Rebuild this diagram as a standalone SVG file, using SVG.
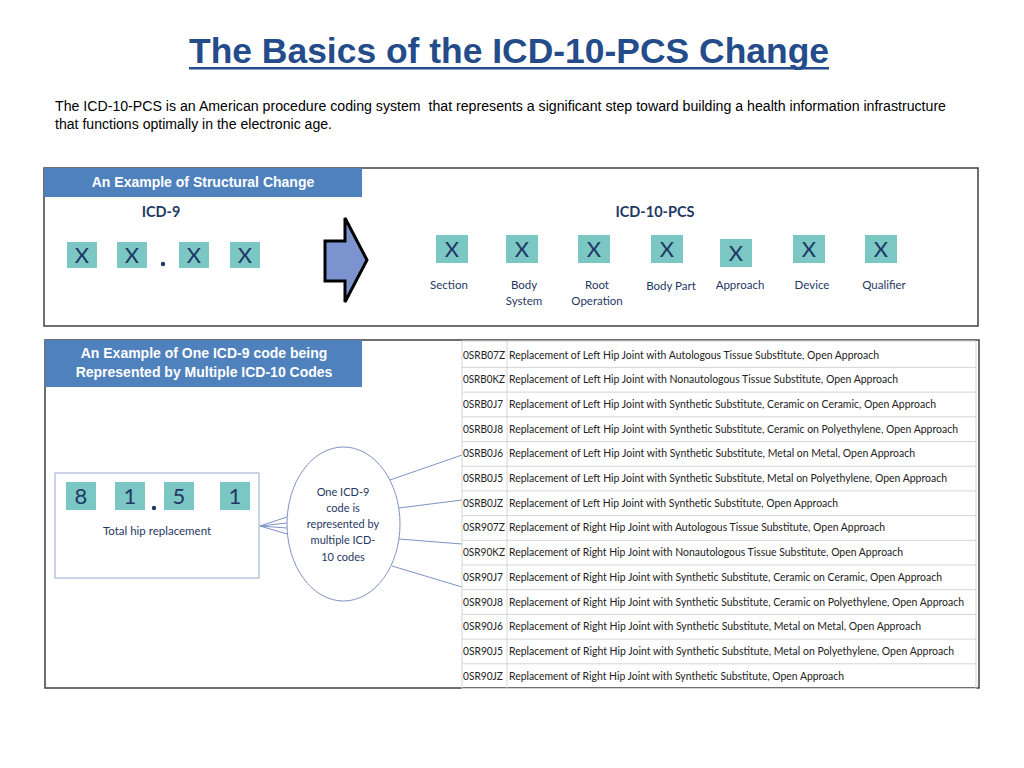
<svg xmlns="http://www.w3.org/2000/svg" width="1024" height="768" viewBox="0 0 1024 768">
<defs>
<style>
.panel{fill:#fff;stroke:#404040;stroke-width:1.5}
.hdr{fill:#4F81BD}
.hdrt{font-family:"Liberation Sans",Arial,sans-serif;font-weight:bold;font-size:14px;fill:#fff;text-anchor:middle}
.lab{font-family:Lato,"Open Sans",sans-serif;fill:#1F3864;text-anchor:middle}
.cell{fill:#7BC7C4}
.cx{font-family:Lato,"Open Sans",sans-serif;font-size:22px;fill:#1F3864;text-anchor:middle}
.dot{fill:#1F3864}
.sm{font-size:11.5px}
.ttl{font-family:Lato,"Open Sans",sans-serif;font-weight:bold;font-size:14.5px;fill:#1F3864;text-anchor:middle}
.row{font-family:Lato,"Open Sans",sans-serif;font-size:10.5px;fill:#222}
.grid{stroke:#D4D4D4;stroke-width:1;fill:none}
.conn{stroke:#8093C6;stroke-width:1;fill:none}
</style>
</defs>
<rect width="1024" height="768" fill="#fff"/>

<g id="title">
<text x="189" y="63" font-family="'Liberation Sans Narrow','Liberation Sans',Arial,sans-serif" font-weight="bold" font-size="35" fill="#244B8A" textLength="640" lengthAdjust="spacingAndGlyphs">The Basics of the ICD-10-PCS Change</text>
<rect x="189" y="67" width="640" height="2.5" fill="#244B8A"/>
</g>

<g id="intro" font-family="'Liberation Sans Narrow','Liberation Sans',Arial,sans-serif" font-size="14" fill="#000">
<text x="55" y="111" xml:space="preserve" textLength="891" lengthAdjust="spacingAndGlyphs">The ICD-10-PCS is an American procedure coding system  that represents a significant step toward building a health information infrastructure</text>
<text x="55" y="129" textLength="277" lengthAdjust="spacingAndGlyphs">that functions optimally in the electronic age.</text>
</g>

<g id="panel-structural">
<rect class="panel" x="44" y="168" width="934" height="158"/>
<rect class="hdr" x="44" y="168" width="318" height="29"/>
<text class="hdrt" x="203" y="187">An Example of Structural Change</text>
</g>

<g id="icd9">
<text class="ttl" x="161" y="217">ICD-9</text>
<rect class="cell" x="67" y="242" width="30" height="26"/>
<rect class="cell" x="117" y="242" width="30" height="26"/>
<rect class="cell" x="179" y="242" width="30" height="26"/>
<rect class="cell" x="230" y="242" width="30" height="26"/>
<text class="cx" x="82" y="263">X</text>
<text class="cx" x="132" y="263">X</text>
<circle class="dot" cx="163" cy="264" r="2.2"/>
<text class="cx" x="194" y="263">X</text>
<text class="cx" x="245" y="263">X</text>
</g>

<g id="arrow">
<path d="M325,241 H345 V218 L367,260 L345,302 V281 H325 Z" fill="#7B93CF" stroke="#000" stroke-width="3" stroke-linejoin="miter"/>
</g>

<g id="icd10pcs">
<text class="ttl" x="655" y="217">ICD-10-PCS</text>
<rect class="cell" x="436" y="235" width="32" height="28"/>
<rect class="cell" x="506" y="235" width="32" height="28"/>
<rect class="cell" x="578" y="235" width="32" height="28"/>
<rect class="cell" x="651" y="235" width="32" height="28"/>
<rect class="cell" x="720" y="239" width="32" height="28"/>
<rect class="cell" x="793" y="235" width="32" height="28"/>
<rect class="cell" x="865" y="235" width="32" height="28"/>
<text class="cx" x="452" y="257">X</text>
<text class="cx" x="522" y="257">X</text>
<text class="cx" x="594" y="257">X</text>
<text class="cx" x="667" y="257">X</text>
<text class="cx" x="736" y="261">X</text>
<text class="cx" x="809" y="257">X</text>
<text class="cx" x="881" y="257">X</text>
<text class="lab sm" x="449" y="289">Section</text>
<text class="lab sm" x="524" y="289">Body</text>
<text class="lab sm" x="524" y="305">System</text>
<text class="lab sm" x="597" y="289">Root</text>
<text class="lab sm" x="597" y="305">Operation</text>
<text class="lab sm" x="671" y="290">Body Part</text>
<text class="lab sm" x="740" y="289">Approach</text>
<text class="lab sm" x="812" y="289">Device</text>
<text class="lab sm" x="884" y="289">Qualifier</text>
</g>

<g id="panel-mapping">
<rect class="panel" x="45" y="340" width="934" height="348"/>
<rect class="hdr" x="45" y="340" width="317" height="47"/>
<text class="hdrt" x="204" y="358">An Example of One ICD-9 code being</text>
<text class="hdrt" x="204" y="377">Represented by Multiple ICD-10 Codes</text>
</g>

<g id="icd9-code">
<rect x="55" y="473" width="204" height="105" fill="#fff" stroke="#9AA8CF" stroke-width="1"/>
<rect class="cell" x="66" y="482" width="30" height="28"/>
<rect class="cell" x="115" y="482" width="30" height="28"/>
<rect class="cell" x="164" y="482" width="30" height="28"/>
<rect class="cell" x="220" y="482" width="30" height="28"/>
<text class="cx" x="81" y="504">8</text>
<text class="cx" x="130" y="504">1</text>
<circle class="dot" cx="154" cy="508" r="2.2"/>
<text class="cx" x="179" y="504">5</text>
<text class="cx" x="235" y="504">1</text>
<text class="lab sm" x="157" y="535">Total hip replacement</text>
</g>

<g id="ellipse-node">
<ellipse cx="343.5" cy="524" rx="56.5" ry="77" fill="#fff" stroke="#8093C6" stroke-width="1"/>
<text class="lab" font-size="11" x="343" y="496">One ICD-9</text>
<text class="lab" font-size="11" x="343" y="512">code is</text>
<text class="lab" font-size="11" x="343" y="528">represented by</text>
<text class="lab" font-size="11" x="343" y="544">multiple ICD-</text>
<text class="lab" font-size="11" x="343" y="561">10 codes</text>
</g>

<g id="connectors">
<line class="conn" x1="260" y1="526" x2="287" y2="517"/>
<line class="conn" x1="260" y1="526" x2="287" y2="523"/>
<line class="conn" x1="260" y1="526" x2="287" y2="528"/>
<line class="conn" x1="260" y1="526" x2="287" y2="534"/>
<line class="conn" x1="390" y1="480" x2="462" y2="455"/>
<line class="conn" x1="399" y1="508" x2="462" y2="500"/>
<line class="conn" x1="399" y1="539" x2="462" y2="544"/>
<line class="conn" x1="392" y1="566" x2="462" y2="587"/>
</g>

<g id="code-table">
<rect class="grid" x="462" y="341" width="514" height="347.5"/>
<line class="grid" x1="507" y1="341" x2="507" y2="688.5"/>
<path class="grid" d="M462,367.4H976M462,392.1H976M462,416.8H976M462,441.5H976M462,466.2H976M462,490.9H976M462,515.6H976M462,540.3H976M462,565H976M462,589.7H976M462,614.4H976M462,639.1H976M462,663.8H976"/>
<g class="row">
<text x="463" y="358.5" textLength="42" lengthAdjust="spacingAndGlyphs">0SRB07Z</text><text x="509" y="358.5" textLength="370" lengthAdjust="spacingAndGlyphs">Replacement of Left Hip Joint with Autologous Tissue Substitute, Open Approach</text>
<text x="463" y="383.2" textLength="42" lengthAdjust="spacingAndGlyphs">0SRB0KZ</text><text x="509" y="383.2" textLength="389" lengthAdjust="spacingAndGlyphs">Replacement of Left Hip Joint with Nonautologous Tissue Substitute, Open Approach</text>
<text x="463" y="407.9" textLength="40" lengthAdjust="spacingAndGlyphs">0SRB0J7</text><text x="509" y="407.9" textLength="427" lengthAdjust="spacingAndGlyphs">Replacement of Left Hip Joint with Synthetic Substitute, Ceramic on Ceramic, Open Approach</text>
<text x="463" y="432.6" textLength="40" lengthAdjust="spacingAndGlyphs">0SRB0J8</text><text x="509" y="432.6" textLength="449" lengthAdjust="spacingAndGlyphs">Replacement of Left Hip Joint with Synthetic Substitute, Ceramic on Polyethylene, Open Approach</text>
<text x="463" y="457.3" textLength="40" lengthAdjust="spacingAndGlyphs">0SRB0J6</text><text x="509" y="457.3" textLength="406" lengthAdjust="spacingAndGlyphs">Replacement of Left Hip Joint with Synthetic Substitute, Metal on Metal, Open Approach</text>
<text x="463" y="482" textLength="40" lengthAdjust="spacingAndGlyphs">0SRB0J5</text><text x="509" y="482" textLength="438" lengthAdjust="spacingAndGlyphs">Replacement of Left Hip Joint with Synthetic Substitute, Metal on Polyethylene, Open Approach</text>
<text x="463" y="506.7" textLength="40" lengthAdjust="spacingAndGlyphs">0SRB0JZ</text><text x="509" y="506.7" textLength="329" lengthAdjust="spacingAndGlyphs">Replacement of Left Hip Joint with Synthetic Substitute, Open Approach</text>
<text x="463" y="531.4" textLength="42" lengthAdjust="spacingAndGlyphs">0SR907Z</text><text x="509" y="531.4" textLength="376" lengthAdjust="spacingAndGlyphs">Replacement of Right Hip Joint with Autologous Tissue Substitute, Open Approach</text>
<text x="463" y="556.1" textLength="42" lengthAdjust="spacingAndGlyphs">0SR90KZ</text><text x="509" y="556.1" textLength="394" lengthAdjust="spacingAndGlyphs">Replacement of Right Hip Joint with Nonautologous Tissue Substitute, Open Approach</text>
<text x="463" y="580.8" textLength="40" lengthAdjust="spacingAndGlyphs">0SR90J7</text><text x="509" y="580.8" textLength="433" lengthAdjust="spacingAndGlyphs">Replacement of Right Hip Joint with Synthetic Substitute, Ceramic on Ceramic, Open Approach</text>
<text x="463" y="605.5" textLength="40" lengthAdjust="spacingAndGlyphs">0SR90J8</text><text x="509" y="605.5" textLength="455" lengthAdjust="spacingAndGlyphs">Replacement of Right Hip Joint with Synthetic Substitute, Ceramic on Polyethylene, Open Approach</text>
<text x="463" y="630.2" textLength="40" lengthAdjust="spacingAndGlyphs">0SR90J6</text><text x="509" y="630.2" textLength="412" lengthAdjust="spacingAndGlyphs">Replacement of Right Hip Joint with Synthetic Substitute, Metal on Metal, Open Approach</text>
<text x="463" y="654.9" textLength="40" lengthAdjust="spacingAndGlyphs">0SR90J5</text><text x="509" y="654.9" textLength="445" lengthAdjust="spacingAndGlyphs">Replacement of Right Hip Joint with Synthetic Substitute, Metal on Polyethylene, Open Approach</text>
<text x="463" y="679.6" textLength="40" lengthAdjust="spacingAndGlyphs">0SR90JZ</text><text x="509" y="679.6" textLength="335" lengthAdjust="spacingAndGlyphs">Replacement of Right Hip Joint with Synthetic Substitute, Open Approach</text>
</g>
</g>
</svg>
